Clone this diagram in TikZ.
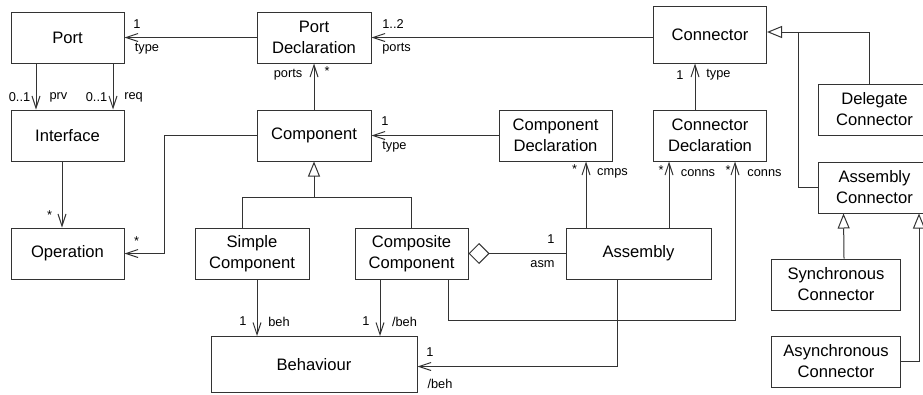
\documentclass[tikz,border=0pt]{standalone}
\usepackage{fontspec}
\setmainfont{Liberation Sans}
\usetikzlibrary{arrows.meta}
\begin{document}
\begin{tikzpicture}[x=1pt,y=-1pt,
  ln/.style={draw=black!80, line width=1pt},
  cls/.style={ln, fill=white, minimum width=113pt, minimum height=51pt,
    inner sep=0pt, align=center, font=\fontsize{16.6}{21}\selectfont},
  nav/.style={ln, -{Straight Barb[length=12pt,width=8pt,line width=1pt]}},
  gen/.style={ln, -{Triangle[open,length=15pt,width=12pt,line width=1pt]}},
  agg/.style={ln, {Diamond[open,length=21pt,width=21pt,line width=1pt]}-},
  lab/.style={inner sep=0pt, font=\fontsize{12.8}{15}\selectfont}
]
\path[use as bounding box, clip] (0,0) rectangle (923,394);
\fill[white] (0,0) rectangle (923,394);

% classes
\node[cls] (port)   at (67.5,37.5)  {Port};
\node[cls] (iface)  at (67.5,135.5) {Interface};
\node[cls] (op)     at (67.5,253.5) {Operation};
\node[cls, minimum width=114pt] (pd) at (314,37.5) {Port\\Declaration};
\node[cls, minimum width=114pt] (comp) at (314,135.5) {Component};
\node[cls, minimum width=114pt] (simple) at (252,253.5) {Simple\\Component};
\node[cls] (composite) at (411.5,253.5) {Composite\\Component};
\node[cls] (cd)     at (555.5,135.5) {Component\\Declaration};
\node[cls, minimum width=145pt] (asm) at (638.5,253.5) {Assembly};
\node[cls, minimum height=57pt] (conn) at (710,34.5) {Connector};
\node[cls] (conndecl) at (710,135.5) {Connector\\Declaration};
\node[cls] (deleg)  at (874.5,109.5) {Delegate\\Connector};
\node[cls] (aconn)  at (874.5,187.5) {Assembly\\Connector};
\node[cls, minimum width=129pt] (sync)  at (836,284.5) {Synchronous\\Connector};
\node[cls, minimum width=129pt] (async) at (836,361.5) {Asynchronous\\Connector};
\node[cls, minimum width=206pt, minimum height=56pt] (beh) at (314,364.5) {Behaviour};

% bend points
\coordinate (gj)  at (314,197);
\coordinate (cj)  at (798,32);
\coordinate (k1)  at (735,320);

% associations
\draw[nav] (pd.west) -- (port.east);
\draw[nav] (pd.east -| conn.west) -- (pd.east);
\draw[nav] ([xshift=-31.5pt]port.south) -- ([xshift=-31.5pt]iface.north);
\draw[nav] ([xshift=45.5pt]port.south) -- ([xshift=45.5pt]iface.north);
\draw[nav] ([xshift=-5.5pt]iface.south) -- ([xshift=-5.5pt]op.north);
\draw[nav] (comp.west) -- ++(-92,0) |- (op.east);
\draw[nav] (comp.north) -- (pd.south);
\draw[nav] (cd.west) -- (comp.east);
\draw[nav] ([xshift=5pt]simple.south) -- ([xshift=-57pt]beh.north);
\draw[nav] ([xshift=-31.5pt]composite.south) -- ([xshift=66pt]beh.north);
\draw[agg] (composite.east) -- (asm.west);
\draw[nav] ([xshift=-52.5pt]asm.north) -- ([xshift=30.5pt]cd.south);
\draw[nav] ([xshift=30.5pt]asm.north) -- ([xshift=-41pt]conndecl.south);
\draw[nav] ([xshift=36.5pt]composite.south) |- (k1) -- ([xshift=25pt]conndecl.south);
\draw[nav] ([xshift=-21.5pt]asm.south) |- ([yshift=-2pt]beh.east);
\draw[nav] ([xshift=-15pt]conndecl.north) -- ([xshift=-15pt]conn.south);

% generalisations
\draw[gen] ([xshift=-10pt]simple.north) |- (gj) -- (comp.south);
\draw[ln] (composite.north) |- (gj);
\draw[gen] ([xshift=-5.5pt]deleg.north) |- ([yshift=2.5pt]conn.east);
\draw[ln] (aconn.west) -| (cj);
\draw[gen] ([xshift=8pt]sync.north) -- ([xshift=-31pt]aconn.south);
\draw[gen] (async.east) -| ([xshift=44.5pt]aconn.south);

% role names and multiplicities
\node[lab] (l1)  at (137,23.7)   {1};
\node[lab] (l2)  at (147,48.5)   {type};
\node[lab] (l3)  at (19.5,97)    {0..1};
\node[lab] (l4)  at (58.5,97)    {prv};
\node[lab] (l5)  at (96.5,97)    {0..1};
\node[lab] (l6)  at (133.6,97)   {req};
\node[lab] (l7)  at (288,75)     {ports};
\node[lab] (l8)  at (327,71)     {*};
\node[lab] (l9)  at (393,24)     {1..2};
\node[lab] (l10) at (396.5,49)   {ports};
\node[lab] (l11) at (680,75)     {1};
\node[lab] (l12) at (718.5,75)   {type};
\node[lab] (l13) at (661,170)    {*};
\node[lab] (l14) at (698,173)    {conns};
\node[lab] (l15) at (728,170)    {*};
\node[lab] (l16) at (764.5,173)  {conns};
\node[lab] (l17) at (385,121)    {1};
\node[lab] (l18) at (394.5,147)  {type};
\node[lab] (l19) at (574.5,169.5) {*};
\node[lab] (l20) at (612.5,173.5) {cmps};
\node[lab] (l21) at (551,239.5)  {1};
\node[lab] (l22) at (542.5,264)  {asm};
\node[lab] (l23) at (49.5,215.5) {*};
\node[lab] (l24) at (136.5,241.5) {*};
\node[lab] (l25) at (243,321.5)  {1};
\node[lab] (l26) at (279,322)    {beh};
\node[lab] (l27) at (366,321.5)  {1};
\node[lab] (l28) at (404.5,322)  {/beh};
\node[lab] (l29) at (430,352.5)  {1};
\node[lab] (l30) at (440,383.5)  {/beh};
\end{tikzpicture}
\end{document}
